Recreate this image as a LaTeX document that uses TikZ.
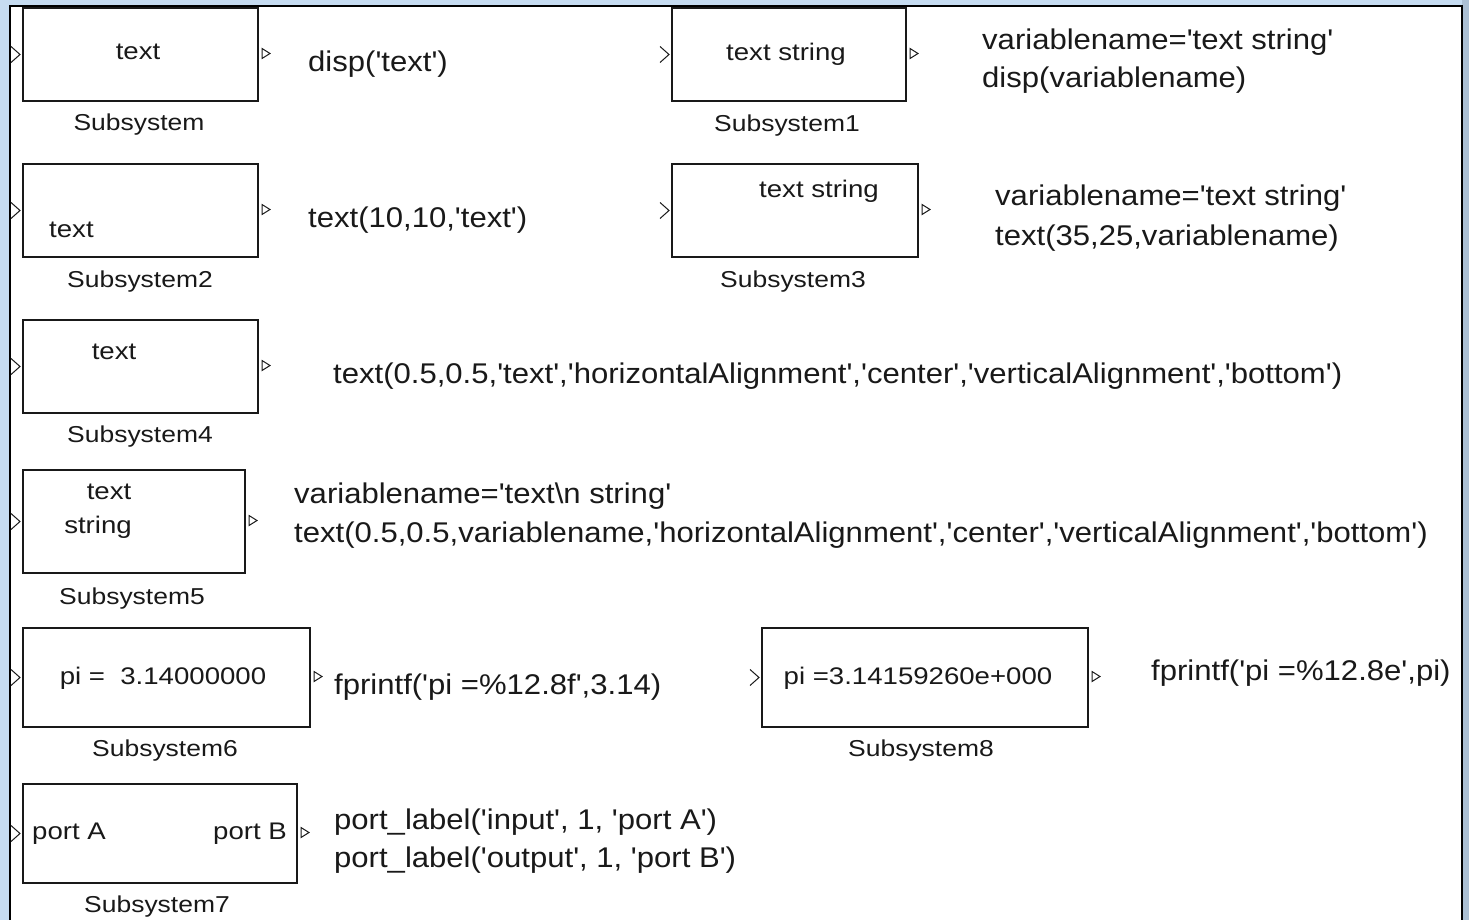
\documentclass[tikz,border=0pt]{standalone}
\usepackage{fontspec}
\usetikzlibrary{calc}
\newfontfamily\mlfont[FakeStretch=1.15,Ligatures=TeXOff]{Liberation Sans}
\newfontfamily\mlcode[FakeStretch=1.09,Ligatures=TeXOff]{Liberation Sans}
\definecolor{bgblue}{RGB}{198,220,241}
\definecolor{bgside}{RGB}{172,192,212}
\definecolor{ink}{RGB}{25,25,25}
\tikzset{
  sbox/.style={draw=ink, line width=2pt, fill=white, inner sep=0pt},
  intext/.style={inner sep=0pt, text=ink, font=\mlfont\fontsize{24}{28}\selectfont},
  lbl/.style={inner sep=0pt, text=ink, font=\mlfont\fontsize{23}{28}\selectfont},
  code/.style={inner sep=0pt, text=ink, font=\mlcode\fontsize{28.5}{34}\selectfont, anchor=base west},
  portline/.style={draw=ink, line width=1pt}
}
\newcommand{\blockports}[1]{%
  \draw[portline] ($(#1.west)+(-11,-8)$) -- ($(#1.west)+(-2,0)$) -- ($(#1.west)+(-11,8)$);
  \draw[portline] ($(#1.east)+(3,-6)$) -- ($(#1.east)+(11,-1)$) -- ($(#1.east)+(3,4)$) -- cycle;}
\begin{document}
\begin{tikzpicture}[x=1pt,y=-1pt]
\useasboundingbox (0,0) rectangle (1469,920);
\fill[bgblue] (0,0) rectangle (1469,920);
\fill[bgside] (1462,0) rectangle (1469,920);
\fill[white] (10,6) rectangle (1462,920);
\draw[black, line width=2.5pt] (10,920) -- (10,6) -- (1462,6) -- (1462,920);

% Subsystem
\node[sbox, minimum width=235, minimum height=93] (s0) at (140.5,54.5) {};
\blockports{s0}
\node[intext, anchor=base] (t0) at (138,60) {text};
\node[lbl, anchor=base] (l0) at (139,131) {Subsystem};
\node[code] (c0) at (308,72) {disp('text')};

% Subsystem1
\node[sbox, minimum width=234, minimum height=93] (s1) at (789,54.5) {};
\blockports{s1}
\node[intext, anchor=base] (t1) at (786,61) {text string};
\node[lbl, anchor=base] (l1) at (787,132) {Subsystem1};
\node[code] (c1a) at (982,50) {variablename='text string'};
\node[code] (c1b) at (982,88) {disp(variablename)};

% Subsystem2
\node[sbox, minimum width=235, minimum height=93] (s2) at (140.5,210.5) {};
\blockports{s2}
\node[intext, anchor=base west] (t2) at (49,237) {text};
\node[lbl, anchor=base] (l2) at (140,287) {Subsystem2};
\node[code] (c2) at (308,227) {text(10,10,'text')};

% Subsystem3
\node[sbox, minimum width=246, minimum height=93] (s3) at (795,210.5) {};
\blockports{s3}
\node[intext, anchor=base] (t3) at (819,198) {text string};
\node[lbl, anchor=base] (l3) at (793,287) {Subsystem3};
\node[code] (c3a) at (995,206) {variablename='text string'};
\node[code] (c3b) at (995,245) {text(35,25,variablename)};

% Subsystem4
\node[sbox, minimum width=235, minimum height=93] (s4) at (140.5,366.5) {};
\blockports{s4}
\node[intext, anchor=base] (t4) at (114,359) {text};
\node[lbl, anchor=base] (l4) at (140,442) {Subsystem4};
\node[code] (c4) at (333,383) {text(0.5,0.5,'text','horizontalAlignment','center','verticalAlignment','bottom')};

% Subsystem5
\node[sbox, minimum width=222, minimum height=103] (s5) at (134,521.5) {};
\blockports{s5}
\node[intext, anchor=base] (t5a) at (109,499) {text};
\node[intext, anchor=base] (t5b) at (98,533) {string};
\node[lbl, anchor=base] (l5) at (132,604) {Subsystem5};
\node[code] (c5a) at (294,503) {variablename='text\textbackslash n string'};
\node[code] (c5b) at (294,542) {text(0.5,0.5,variablename,'horizontalAlignment','center','verticalAlignment','bottom')};

% Subsystem6
\node[sbox, minimum width=287, minimum height=99] (s6) at (166.5,677.5) {};
\blockports{s6}
\node[intext, anchor=base] (t6) at (163,684) {pi =\ \ 3.14000000};
\node[lbl, anchor=base] (l6) at (165,756) {Subsystem6};
\node[code] (c6) at (334,694) {fprintf('pi =\%12.8f',3.14)};

% Subsystem8
\node[sbox, minimum width=326, minimum height=99] (s8) at (925,677.5) {};
\blockports{s8}
\node[intext, anchor=base] (t8) at (918,684) {pi =3.14159260e+000};
\node[lbl, anchor=base] (l8) at (921,756) {Subsystem8};
\node[code] (c8) at (1151,680) {fprintf('pi =\%12.8e',pi)};

% Subsystem7
\node[sbox, minimum width=274, minimum height=99] (s7) at (160,833.5) {};
\blockports{s7}
\node[intext, anchor=base west] (t7a) at (32,839) {port A};
\node[intext, anchor=base east] (t7b) at (287,839) {port B};
\node[lbl, anchor=base] (l7) at (157,912) {Subsystem7};
\node[code] (c7a) at (334,829) {port\_label('input', 1, 'port A')};
\node[code] (c7b) at (334,867) {port\_label('output', 1, 'port B')};
\end{tikzpicture}
\end{document}
